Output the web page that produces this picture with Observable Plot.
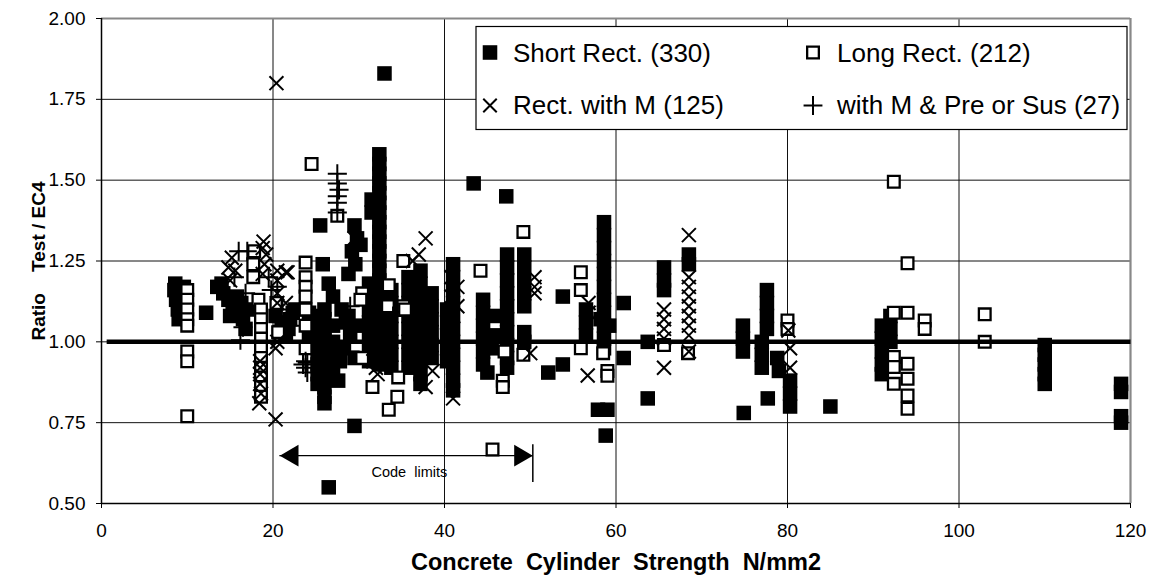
<!DOCTYPE html>
<html><head><meta charset="utf-8">
<script src="https://cdn.jsdelivr.net/npm/d3@7"></script>
<script src="https://cdn.jsdelivr.net/npm/@observablehq/plot@0.6"></script>
<style>
body{margin:0;background:#fff;}
#chart{position:relative;width:1154px;height:582px;}
</style></head><body><div id="chart"></div>
<script>
// Series: [concrete strength N/mm2, Test / EC4 ratio]
const shortRect = [
[8.5,1.16],[8.7,1.13],[8.9,1.10],[9.1,1.15],[9.2,1.12],[9.4,1.08],[9.6,1.17],[9.7,1.14],[9.9,1.11],[9.0,1.07],[8.6,1.18],[9.3,1.10],
[12.2,1.09],
[13.5,1.17],[14.2,1.15],[14.8,1.13],[15.3,1.11],[15.0,1.08],[15.8,1.14],[16.3,1.12],[16.5,1.07],[16.8,1.04],[17.2,1.10],[14.0,1.18],[16.0,1.09],
[20.3,1.08],[21.0,1.06],[21.8,1.04],[22.3,1.09],[21.5,1.02],[20.8,1.03],[22.6,1.10],[22.0,1.07],
[24.2,1.09],[24.2,1.05],[24.2,1.01],[25.2,1.08],[25.2,1.05],[25.2,1.02],[25.2,0.99],[25.2,0.96],[25.2,0.93],[25.2,0.90],[25.2,0.87],
[26.0,1.10],[26.0,1.07],[26.0,1.04],[26.0,1.01],[26.0,0.98],[26.0,0.95],[26.0,0.92],[26.0,0.89],[26.0,0.86],[26.0,0.83],[26.0,0.81],
[27.0,1.14],[27.0,1.05],[27.0,1.00],[27.0,0.96],[27.0,0.92],[27.6,0.88],
[25.5,1.36],[25.8,1.24],[26.5,1.18],[26.5,0.55],[29.5,0.74],
[29.5,1.36],[29.8,1.32],[29.2,1.28],[29.6,1.24],[28.8,1.21],[30.2,1.30],[28.0,1.10],[28.5,1.06],[29.0,1.02],[28.2,0.98],[29.5,0.95],[27.8,0.94],[28.8,1.08],[29.8,1.05],
[33.0,1.83],
[32.4,1.58],[32.4,1.55],[32.4,1.52],[32.4,1.49],[32.4,1.46],[32.4,1.43],[32.4,1.40],[32.4,1.37],[32.4,1.34],[32.4,1.31],[32.4,1.28],[32.4,1.25],[32.4,1.22],[32.4,1.19],[32.4,1.16],
[31.5,1.44],[31.5,1.40],
[31.2,1.18],[31.2,1.14],[31.2,1.10],[31.2,1.06],[31.2,1.02],[31.2,0.98],[31.2,0.94],
[32.5,1.13],[32.5,1.09],[32.5,1.05],[32.5,1.01],[32.5,0.97],[32.5,0.93],
[33.8,1.16],[33.8,1.12],[33.8,1.08],[33.8,1.04],[33.8,1.00],[33.8,0.96],[33.8,0.92],
[35.8,1.20],[35.8,1.16],[35.8,1.12],[35.8,1.08],[35.8,1.04],[35.8,1.00],[35.8,0.96],[35.8,0.92],
[37.2,1.22],[37.2,1.18],[37.2,1.14],[37.2,1.10],[37.2,1.06],[37.2,1.02],[37.2,0.98],[37.2,0.94],[37.2,0.90],[37.2,0.87],
[38.5,1.15],[38.5,1.11],[38.5,1.07],[38.5,1.03],[38.5,0.99],[38.5,0.95],
[41.0,1.24],[41.0,1.20],[41.0,1.16],[41.0,1.12],[41.0,1.08],[41.0,1.04],[41.0,1.00],[41.0,0.96],[41.0,0.92],[41.0,0.88],[41.0,0.85],
[40.3,1.10],[40.3,1.06],[40.3,1.02],[40.3,0.98],[40.3,0.94],
[43.4,1.49],[47.2,1.45],
[44.5,1.13],[44.5,1.09],[44.5,1.05],[44.5,1.01],[44.5,0.97],[44.5,0.93],[45.0,0.905],[45.8,1.08],[45.8,1.02],[45.5,0.98],
[47.3,1.27],[47.3,1.23],[47.3,1.19],[47.3,1.15],[47.3,1.11],[47.3,1.07],[47.3,1.03],[47.3,0.99],[47.3,0.95],[47.3,0.92],
[49.3,1.27],[49.3,1.23],[49.3,1.19],[49.3,1.15],[49.3,1.11],[49.3,1.03],[49.3,1.00],
[52.1,0.905],[53.8,0.93],[53.8,1.14],
[56.5,1.10],[56.5,1.06],[56.5,1.02],
[58.6,1.37],[58.6,1.33],[58.6,1.29],[58.6,1.25],[58.6,1.21],[58.6,1.17],[58.6,1.13],[58.6,1.09],[58.6,1.05],[58.6,1.01],[58.6,0.98],
[58.2,1.07],[59.2,1.05],[57.9,0.79],[59.0,0.79],[58.8,0.71],
[60.9,1.12],[60.9,0.95],[63.7,1.00],[63.7,0.825],
[65.6,1.23],[65.6,1.19],[65.6,1.16],[68.5,1.27],[68.5,1.24],
[74.8,1.05],[74.8,1.01],[74.8,0.97],[74.9,0.78],
[77.6,1.16],[77.6,1.12],[77.6,1.08],[77.6,1.04],[77.0,1.00],[77.0,0.96],[77.0,0.92],[77.7,0.825],[78.8,0.95],[79.0,0.91],
[80.3,0.88],[80.3,0.84],[80.3,0.80],[85.0,0.80],
[91.0,1.05],[91.0,1.01],[91.0,0.97],[91.0,0.93],[91.0,0.90],[92.0,1.08],[92.0,1.04],[92.0,1.00],
[110.0,0.99],[110.0,0.96],[110.0,0.93],[110.0,0.90],[110.0,0.87],
[118.9,0.87],[118.9,0.845],[118.9,0.77],[118.9,0.75]
];
const longRect = [
[10.0,1.16],[10.0,1.13],[10.0,1.10],[10.0,1.07],[10.0,1.05],[10.0,0.97],[10.0,0.94],[10.0,0.77],
[17.8,1.28],[17.7,1.24],[17.7,1.20],[18.3,1.13],
[18.6,1.10],[18.6,1.07],[18.6,1.04],[18.6,1.01],[18.6,0.98],[18.6,0.95],[18.6,0.92],[18.6,0.89],[18.6,0.86],[18.6,0.83],
[20.4,1.12],[20.6,1.03],
[23.8,1.245],[23.8,1.20],[23.8,1.17],[23.8,1.14],[23.8,1.10],[23.8,1.05],[23.8,0.98],[24.5,1.55],
[27.5,1.39],[30.4,1.15],[30.2,1.13],[30.4,0.95],[31.6,0.86],[34.6,0.89],[34.5,0.83],[33.5,0.79],[35.2,1.25],[35.2,1.11],[35.4,1.10],[33.5,1.175],[33.4,1.11],
[44.2,1.22],[49.2,1.34],[49.2,0.96],[47.0,0.97],[46.8,0.88],[46.8,0.86],
[55.9,1.215],[55.9,1.16],[55.9,0.98],[58.5,0.965],[59.0,0.91],[59.0,0.895],[65.6,0.99],[68.4,0.965],
[80.0,1.066],[80.0,1.04],[92.4,1.495],[94.0,1.243],[92.4,1.09],[94.0,1.09],[96.0,1.066],[96.0,1.04],
[92.4,0.953],[92.4,0.922],[92.4,0.87],[94.0,0.932],[94.0,0.886],[94.0,0.834],[94.0,0.793],[103.0,1.085],[103.0,1.0],[45.6,0.667]
];
const rectWithM = [
[20.4,1.80],
[15.2,1.26],[15.6,1.22],[15.0,1.19],[15.5,1.12],[15.8,1.10],[14.8,1.23],
[18.9,1.31],[19.2,1.27],[18.8,1.29],[19.0,1.24],[18.8,1.21],
[20.5,1.22],[21.5,1.215],[20.5,1.19],[20.5,1.15],[20.5,1.12],[20.5,1.00],[20.3,0.98],[20.3,0.76],[21.7,1.215],[21.5,1.12],
[18.5,0.94],[18.5,0.90],[18.5,0.87],[18.6,0.84],[18.4,0.81],[18.5,0.92],
[29.5,1.32],[31.7,0.94],[32.2,0.90],[32.0,0.92],
[36.3,1.25],[37.0,1.27],[37.8,1.32],[37.8,0.86],[38.6,0.91],
[40.8,1.20],[41.5,1.17],[40.8,1.14],[41.5,1.11],[41.0,1.08],[41.0,0.825],
[50.0,0.965],[50.5,1.20],[50.5,1.17],[50.5,1.15],[56.8,1.12],[56.8,1.09],[56.7,0.896],
[65.6,1.10],[65.6,1.07],[65.6,1.04],[65.6,1.01],[65.6,0.92],
[68.5,1.33],[68.5,1.20],[68.5,1.17],[68.5,1.14],[68.5,1.11],[68.5,1.08],[68.5,1.05],[68.5,1.02],[68.5,0.97],
[80.1,1.035],[80.3,0.98],[80.3,0.92]
];
const withMPreSus = [
[16.0,1.28],[17.0,1.28],[16.5,1.045],[16.2,1.005],[15.5,1.20],[16.8,1.15],[19.8,1.16],[20.5,1.17],[22.0,1.05],
[23.5,0.93],[24.0,0.935],[24.0,0.905],[23.8,0.94],[23.8,0.92],
[27.5,1.52],[27.5,1.49],[27.5,1.45],[27.5,1.43],[27.5,1.40],[27.7,1.47],
[29.0,1.11],[29.0,0.97],[19.5,1.20],[21.0,1.10],[25.0,1.00],[34.0,1.08],[37.5,1.00]
];
const legendLabels = ["Short Rect. (330)", "Long Rect. (212)", "Rect. with M (125)", "with M & Pre or Sus (27)"];
const xTicks = [0, 20, 40, 60, 80, 100, 120];
const yTicks = [0.50, 0.75, 1.00, 1.25, 1.50, 1.75, 2.00];
const unityLine = [[0.6, 1.0], [120, 1.0]];
const codeRange = [20.8, 50.3];
const codeArrowY = [0.648];
const codeBarY = [0.565, 0.682];
const codeLabel = [{x: 35.9, y: 0.596, text: "Code\u00a0\u00a0limits"}];
const xTitle = "Concrete\u00a0\u00a0Cylinder\u00a0\u00a0Strength\u00a0\u00a0N/mm2";
const yTitle = "Ratio\u00a0\u00a0\u00a0\u00a0Test / EC4";

const pts = a => a.map(([x, y]) => ({x, y}));
const font = "'Liberation Sans', Arial, sans-serif";

const svg = Plot.plot({
  width: 1154, height: 582,
  marginLeft: 101, marginRight: 24, marginTop: 18, marginBottom: 79,
  x: {domain: [0, 120]},
  y: {domain: [0.5, 2]},
  style: {fontFamily: font, fontSize: "19px", background: "white", color: "black", overflow: "visible"},
  marks: [
    Plot.gridX(xTicks, {stroke: "#111", strokeOpacity: 1, strokeWidth: 1}),
    Plot.gridY(yTicks, {stroke: "#111", strokeOpacity: 1, strokeWidth: 1}),
    Plot.ruleY([2], {stroke: "#888", strokeWidth: 2.2}),
    Plot.ruleX([120], {stroke: "#888", strokeWidth: 2.2}),
    Plot.ruleX([0], {stroke: "black", strokeWidth: 1.5}),
    Plot.ruleY([0.5], {stroke: "black", strokeWidth: 1.5}),
    Plot.axisX({ticks: xTicks, tickSize: 5, tickPadding: 15, label: null, fontSize: 19, tickFormat: d3.format("d")}),
    Plot.axisY({ticks: yTicks, tickSize: 5, tickPadding: 11, label: null, fontSize: 19, tickFormat: d3.format(".2f")}),
    Plot.dot(pts(shortRect), {x: "x", y: "y", symbol: "square", r: 8.2, fill: "black", stroke: "none"}),
    Plot.dot(pts(longRect), {x: "x", y: "y", symbol: "square", r: 6.6, fill: "white", stroke: "black", strokeWidth: 2.3}),
    Plot.dot(pts(rectWithM), {x: "x", y: "y", symbol: "times", r: 6.4, fill: "none", stroke: "black", strokeWidth: 2}),
    Plot.dot(pts(withMPreSus), {x: "x", y: "y", symbol: "plus", r: 6.2, fill: "none", stroke: "black", strokeWidth: 2}),
    Plot.line(pts(unityLine), {x: "x", y: "y", stroke: "black", strokeWidth: 4.5, strokeLinecap: "butt"}),
    Plot.ruleY(codeArrowY, {x1: () => codeRange[0], x2: () => codeRange[1], stroke: "black", strokeWidth: 1.2}),
    Plot.dot(codeArrowY, {x: () => codeRange[0], y: d => d, symbol: "triangle", r: 8, fill: "black", stroke: "none", rotate: -90, dx: 12.4}),
    Plot.dot(codeArrowY, {x: () => codeRange[1], y: d => d, symbol: "triangle", r: 8, fill: "black", stroke: "none", rotate: 90, dx: -12.4}),
    Plot.ruleX([codeRange[1]], {y1: codeBarY[0], y2: codeBarY[1], stroke: "black", strokeWidth: 1.5}),
    Plot.text(codeLabel, {x: "x", y: "y", text: "text", fontSize: 14.5, fill: "black"}),
    Plot.text([xTitle], {frameAnchor: "bottom", dy: 66, fontSize: 23.5, fontWeight: "bold", fill: "black", textAnchor: "middle"}),
    Plot.text([yTitle], {frameAnchor: "left", dx: -63, rotate: -90, fontSize: 19, fontWeight: "bold", fill: "black", textAnchor: "middle"})
  ]
});

// Legend box inside the plot area
const leg = d3.select(svg).append("g").attr("font-family", font).attr("font-size", 26).attr("text-anchor", "start");
leg.append("rect").attr("x", 476).attr("y", 26.5).attr("width", 651).attr("height", 103)
  .attr("fill", "white").attr("stroke", "black").attr("stroke-width", 1.2);
const legendStyle = [
  {type: d3.symbolSquare, size: 212, fill: "black", stroke: "none", sw: 0},
  {type: d3.symbolSquare, size: 137, fill: "white", stroke: "black", sw: 2.3},
  {type: d3.symbolTimes, size: 120, fill: "none", stroke: "black", sw: 2},
  {type: d3.symbolPlus, size: 118, fill: "none", stroke: "black", sw: 2}
];
const colX = [490, 813], textX = [513, 837], rowY = [52.5, 105.5], baseY = [61.5, 113.5];
legendLabels.forEach((label, i) => {
  const c = i % 2, r = Math.floor(i / 2), s = legendStyle[i];
  leg.append("path").attr("d", d3.symbol().type(s.type).size(s.size)())
    .attr("transform", `translate(${colX[c]},${rowY[r]})`)
    .attr("fill", s.fill).attr("stroke", s.stroke).attr("stroke-width", s.sw);
  leg.append("text").attr("x", textX[c]).attr("y", baseY[r]).attr("fill", "black").attr("text-anchor", "start").text(label);
});

document.getElementById("chart").appendChild(svg);
</script>
</body></html>
